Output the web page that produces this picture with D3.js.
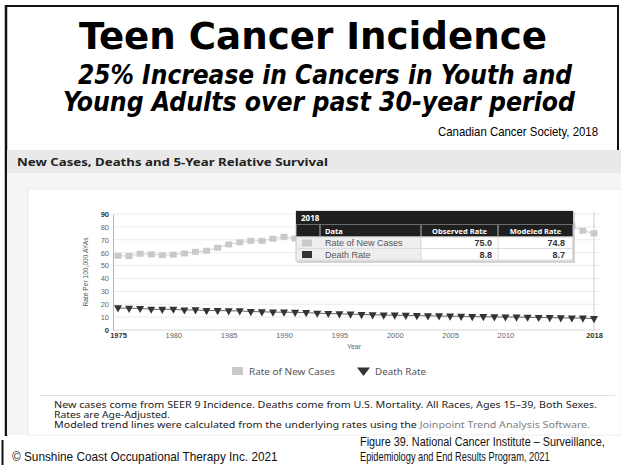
<!DOCTYPE html>
<html lang="en">
<head>
<meta charset="utf-8">
<title>Teen Cancer Incidence</title>
<script src="https://d3js.org/d3.v7.min.js"></script>
<style>
body { margin: 0; background: #fff; }
svg { display: block; }
</style>
</head>
<body>
<div id="chart"></div>
<script>
// values, rate per 100,000 AYAs (ages 15-39)
var years = [1975, 1976, 1977, 1978, 1979, 1980, 1981, 1982, 1983, 1984,
             1985, 1986, 1987, 1988, 1989, 1990, 1991, 1992, 1993, 1994,
             1995, 1996, 1997, 1998, 1999, 2000, 2001, 2002, 2003, 2004,
             2005, 2006, 2007, 2008, 2009, 2010, 2011, 2012, 2013, 2014,
             2015, 2016, 2017, 2018];
var newCases = [57.6, 57.4, 59.2, 58.7, 58.1, 58.4, 59.4, 60.7, 61.5, 63.8,
                66.4, 68.0, 69.2, 69.2, 70.8, 72.3, 71.0, 70.6, 70.1, 69.6,
                69.0, 69.4, 70.2, 70.9, 71.3, 71.8, 72.2, 72.9, 73.4, 74.1,
                74.7, 75.4, 76.1, 76.8, 77.3, 78.0, 78.6, 79.3, 79.9, 80.4,
                80.9, 80.6, 77.0, 75.0];
var deathRate = [17.1, 16.8, 16.7, 16.1, 16.0, 16.1, 15.5, 15.6, 15.1, 15.1,
                 14.9, 14.8, 14.3, 14.1, 13.9, 13.8, 13.7, 13.5, 13.0, 12.8,
                 12.5, 12.3, 12.0, 11.8, 11.6, 11.5, 11.3, 11.2, 11.0, 10.9,
                 10.7, 10.6, 10.4, 10.3, 10.2, 10.1, 10.0, 9.9, 9.7, 9.6,
                 9.4, 9.3, 9.2, 8.8];
var xTicks = [1975, 1980, 1985, 1990, 1995, 2000, 2005, 2010, 2018];
var yTicks = [0, 10, 20, 30, 40, 50, 60, 70, 80, 90];

// 2018 tooltip table
var tableSeries = ["Rate of New Cases", "Death Rate"];
var tableObserved = [75.0, 8.8];
var tableModeled = [74.8, 8.7];
var seriesColors = ["#c9c9c9", "#333333"];

var W = 621, H = 465;
var svg = d3.select("#chart").append("svg")
    .attr("width", W)
    .attr("height", H);

var narrow = "'Liberation Sans Narrow', 'Liberation Sans', Arial, sans-serif";
var arial = "'Liberation Sans', Arial, sans-serif";
var noto = "'Noto Sans', 'Open Sans', sans-serif";
var tahoma = "'DejaVu Sans Condensed', 'DejaVu Sans', sans-serif";

// squeeze a text sideways to a given width (the slide uses Arial Narrow)
function fitText(g, str, size, width) {
  var t = g.append("text")
      .attr("font-family", narrow).attr("font-size", size).attr("fill", "#111")
      .text(str);
  var w = t.node().getComputedTextLength();
  t.attr("transform", "scale(" + (width / w) + ",1)");
  return t;
}

// slide frame
svg.append("line").attr("x1", 5).attr("x2", 619).attr("y1", 6).attr("y2", 6)
    .attr("stroke", "#111").attr("stroke-width", 2);
svg.append("line").attr("x1", 6).attr("x2", 6).attr("y1", 5).attr("y2", 436)
    .attr("stroke", "#111").attr("stroke-width", 2.5);
svg.append("line").attr("x1", 618).attr("x2", 618).attr("y1", 5).attr("y2", 150)
    .attr("stroke", "#111").attr("stroke-width", 2);
svg.append("line").attr("x1", 2.5).attr("x2", 2.5).attr("y1", 440).attr("y2", 465)
    .attr("stroke", "#111").attr("stroke-width", 2);

// titles
svg.append("text").attr("x", 313).attr("y", 49)
    .attr("text-anchor", "middle")
    .attr("font-family", tahoma).attr("font-weight", "bold").attr("font-size", 37)
    .attr("textLength", 468).attr("lengthAdjust", "spacingAndGlyphs")
    .text("Teen Cancer Incidence");
svg.append("text").attr("x", 325).attr("y", 84)
    .attr("text-anchor", "middle")
    .attr("font-family", tahoma).attr("font-weight", "bold").attr("font-style", "italic")
    .attr("font-size", 26)
    .attr("textLength", 494).attr("lengthAdjust", "spacingAndGlyphs")
    .text("25% Increase in Cancers in Youth and");
svg.append("text").attr("x", 319).attr("y", 111)
    .attr("text-anchor", "middle")
    .attr("font-family", tahoma).attr("font-weight", "bold").attr("font-style", "italic")
    .attr("font-size", 26)
    .attr("textLength", 512).attr("lengthAdjust", "spacingAndGlyphs")
    .text("Young Adults over past 30-year period");
svg.append("text").attr("x", 598).attr("y", 136)
    .attr("text-anchor", "end")
    .attr("font-family", narrow).attr("font-size", 13)
    .attr("textLength", 160).attr("lengthAdjust", "spacingAndGlyphs")
    .text("Canadian Cancer Society, 2018");

// SEER panel background
svg.append("rect").attr("x", 7).attr("y", 150).attr("width", W - 7).attr("height", 285)
    .attr("fill", "#f5f5f5");
svg.append("rect").attr("x", 7).attr("y", 150).attr("width", W - 7).attr("height", 23)
    .attr("fill", "#e9e9e9");
svg.append("text").attr("x", 17).attr("y", 166)
    .attr("font-family", noto).attr("font-weight", "bold").attr("font-size", 11)
    .attr("fill", "#222")
    .attr("textLength", 311).attr("lengthAdjust", "spacingAndGlyphs")
    .text("New Cases, Deaths and 5-Year Relative Survival");
svg.append("rect").attr("x", 28).attr("y", 189).attr("width", W - 28).attr("height", 246)
    .attr("fill", "#fff").attr("stroke", "#ececec");

// scales
var x = d3.scaleLinear().domain([1975, 2018]).range([118, 594]);
var y = d3.scaleLinear().domain([0, 90]).range([330, 214]);

// gridlines
svg.append("g").selectAll("line")
    .data(yTicks)
    .enter().append("line")
    .attr("x1", 113).attr("x2", 600)
    .attr("y1", function(d) { return y(d); })
    .attr("y2", function(d) { return y(d); })
    .attr("stroke", function(d) { return d == 0 ? "#d8d8d8" : "#ebebeb"; });

// y axis
var yAxis = svg.append("g")
    .attr("transform", "translate(113,0)")
    .call(d3.axisLeft(y).tickValues(yTicks).tickSize(0).tickPadding(4));
yAxis.select(".domain").attr("stroke", "#b5b5b5");
yAxis.selectAll("text")
    .attr("font-family", arial).attr("font-size", 7.5)
    .attr("fill", function(d) { return (d == 0 || d == 90) ? "#333" : "#666"; })
    .attr("font-weight", function(d) { return (d == 0 || d == 90) ? "bold" : "normal"; });

// x axis
var xAxis = svg.append("g")
    .attr("transform", "translate(0,330)")
    .call(d3.axisBottom(x).tickValues(xTicks).tickFormat(d3.format("d")).tickSize(0).tickPadding(3));
xAxis.select(".domain").remove();
xAxis.selectAll("text")
    .attr("font-family", arial).attr("font-size", 7.5)
    .attr("fill", function(d) { return (d == 1975 || d == 2018) ? "#333" : "#666"; })
    .attr("font-weight", function(d) { return (d == 1975 || d == 2018) ? "bold" : "normal"; });

svg.append("text").attr("x", 354).attr("y", 349)
    .attr("text-anchor", "middle")
    .attr("font-family", arial).attr("font-size", 7).attr("fill", "#666")
    .text("Year");
svg.append("text")
    .attr("transform", "translate(88,272) rotate(-90)")
    .attr("text-anchor", "middle")
    .attr("font-family", narrow).attr("font-size", 8).attr("fill", "#555")
    .attr("textLength", 69).attr("lengthAdjust", "spacingAndGlyphs")
    .text("Rate Per 100,000 AYAs");

// hover line at 2018
svg.append("line")
    .attr("x1", x(2018)).attr("x2", x(2018)).attr("y1", 212).attr("y2", 331)
    .attr("stroke", "#cfcfcf");

// trend lines
var line = d3.line()
    .x(function(d, i) { return x(years[i]); })
    .y(function(d) { return y(d); });
svg.append("path").datum(newCases)
    .attr("d", line).attr("fill", "none")
    .attr("stroke", "#cfcfcf").attr("stroke-width", 1);
svg.append("path").datum(deathRate)
    .attr("d", line).attr("fill", "none")
    .attr("stroke", "#666").attr("stroke-width", 1);

// markers
svg.append("g").selectAll("rect")
    .data(newCases)
    .enter().append("rect")
    .attr("x", function(d, i) { return x(years[i]) - 3.5; })
    .attr("y", function(d) { return y(d) - 3; })
    .attr("width", 7).attr("height", 6)
    .attr("fill", seriesColors[0]);

var tri = "M-4,-2.6L4,-2.6L0,4.6Z";
svg.append("g").selectAll("path")
    .data(deathRate)
    .enter().append("path")
    .attr("transform", function(d, i) { return "translate(" + x(years[i]) + "," + y(d) + ")"; })
    .attr("d", tri)
    .attr("fill", seriesColors[1]);

// tooltip table for 2018
var tip = svg.append("g").attr("transform", "translate(296,211)");
var tw = 277, cols = [0, 24, 125, 202, 277];
tip.append("rect").attr("x", 1).attr("y", 1).attr("width", tw + 1).attr("height", 51)
    .attr("fill", "#bbb").attr("opacity", 0.6);
tip.append("rect").attr("width", tw).attr("height", 50)
    .attr("fill", "#fff").attr("stroke", "#c8c8c8");
tip.append("rect").attr("width", tw).attr("height", 26).attr("fill", "#1f1f1f");
tip.append("text").attr("x", 5).attr("y", 10)
    .attr("font-family", noto).attr("font-weight", "bold").attr("font-size", 8)
    .attr("fill", "#fff").text("2018");

var heads = ["", "Data", "Observed Rate", "Modeled Rate"];
heads.forEach(function(h, j) {
  tip.append("rect")
      .attr("x", cols[j] + 0.5).attr("y", 13.5)
      .attr("width", cols[j + 1] - cols[j] - 1).attr("height", 12)
      .attr("fill", "none").attr("stroke", "#6b6b6b");
  if (h) {
    tip.append("text")
        .attr("x", j == 1 ? cols[j] + 5 : (cols[j] + cols[j + 1]) / 2)
        .attr("y", 22.5)
        .attr("text-anchor", j == 1 ? "start" : "middle")
        .attr("font-family", noto).attr("font-weight", "bold").attr("font-size", 7.5)
        .attr("fill", "#fff").text(h);
  }
});

tableSeries.forEach(function(s, k) {
  var ry = 26 + k * 11.5;
  tip.append("rect").attr("x", 0.5).attr("y", ry).attr("width", cols[2] - 0.5).attr("height", 11.5)
      .attr("fill", "#eeeeee").attr("stroke", "#dcdcdc");
  tip.append("rect").attr("x", cols[2]).attr("y", ry).attr("width", cols[4] - cols[2] - 0.5).attr("height", 11.5)
      .attr("fill", "#fff").attr("stroke", "#dcdcdc");
  tip.append("line").attr("x1", cols[3]).attr("x2", cols[3]).attr("y1", ry).attr("y2", ry + 11.5)
      .attr("stroke", "#dcdcdc");
  tip.append("rect").attr("x", 6).attr("y", ry + 2.5).attr("width", 10).attr("height", 7)
      .attr("fill", seriesColors[k]);
  tip.append("text").attr("x", cols[1] + 5).attr("y", ry + 9)
      .attr("font-family", arial).attr("font-size", 9).attr("fill", "#555")
      .text(s);
  tip.append("text").attr("x", cols[3] - 6).attr("y", ry + 9)
      .attr("text-anchor", "end")
      .attr("font-family", arial).attr("font-weight", "bold").attr("font-size", 9).attr("fill", "#333")
      .text(tableObserved[k].toFixed(1));
  tip.append("text").attr("x", cols[4] - 8).attr("y", ry + 9)
      .attr("text-anchor", "end")
      .attr("font-family", arial).attr("font-weight", "bold").attr("font-size", 9).attr("fill", "#333")
      .text(tableModeled[k].toFixed(1));
});

// legend
svg.append("rect").attr("x", 232).attr("y", 367).attr("width", 11).attr("height", 8)
    .attr("fill", seriesColors[0]);
svg.append("text").attr("x", 249).attr("y", 374.5)
    .attr("font-family", noto).attr("font-size", 8.5).attr("fill", "#555")
    .attr("textLength", 86).attr("lengthAdjust", "spacingAndGlyphs")
    .text(tableSeries[0]);
svg.append("path").attr("transform", "translate(363.5,370.5)")
    .attr("d", "M-6.5,-3L6.5,-3L0,5.5Z").attr("fill", seriesColors[1]);
svg.append("text").attr("x", 375).attr("y", 374.5)
    .attr("font-family", noto).attr("font-size", 8.5).attr("fill", "#555")
    .attr("textLength", 51).attr("lengthAdjust", "spacingAndGlyphs")
    .text(tableSeries[1]);

svg.append("line").attr("x1", 40).attr("x2", 615).attr("y1", 395.5).attr("y2", 395.5)
    .attr("stroke", "#e2e2e2");

// notes
svg.append("text").attr("x", 54).attr("y", 408)
    .attr("font-family", noto).attr("font-size", 8.3).attr("fill", "#222")
    .attr("textLength", 543).attr("lengthAdjust", "spacingAndGlyphs")
    .text("New cases come from SEER 9 Incidence. Deaths come from U.S. Mortality. All Races, Ages 15\u201339, Both Sexes.");
svg.append("text").attr("x", 54).attr("y", 418)
    .attr("font-family", noto).attr("font-size", 8.3).attr("fill", "#222")
    .attr("textLength", 116).attr("lengthAdjust", "spacingAndGlyphs")
    .text("Rates are Age-Adjusted.");
var note3 = svg.append("text").attr("x", 54).attr("y", 428)
    .attr("font-family", noto).attr("font-size", 8.3).attr("fill", "#222")
    .attr("textLength", 536).attr("lengthAdjust", "spacingAndGlyphs");
note3.append("tspan").text("Modeled trend lines were calculated from the underlying rates using the ");
note3.append("tspan").attr("fill", "#808080").text("Joinpoint Trend Analysis Software.");

// footer
fitText(svg.append("g").attr("transform", "translate(360,446)"),
    "Figure 39. National Cancer Institute \u2013 Surveillance,", 13, 245);
fitText(svg.append("g").attr("transform", "translate(360,461)"),
    "Epidemiology and End Results Program, 2021", 13, 190);
fitText(svg.append("g").attr("transform", "translate(12,461)"),
    "\u00a9 Sunshine Coast Occupational Therapy Inc. 2021", 13, 266);
</script>
</body>
</html>
